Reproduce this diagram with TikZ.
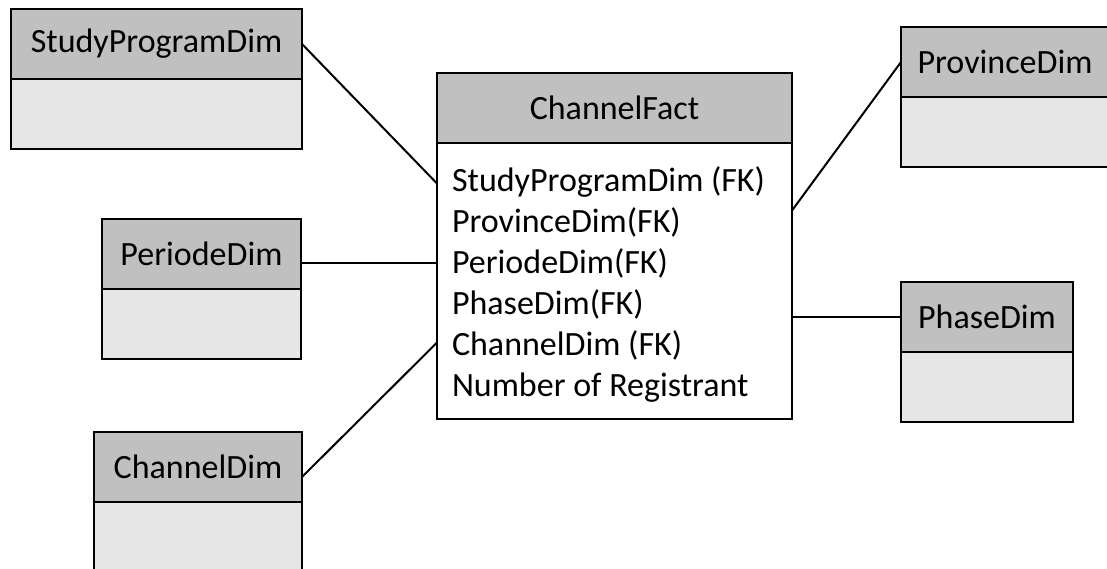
\documentclass[tikz,border=0pt]{standalone}
\usepackage{fontspec}
\setmainfont{Carlito}
\usetikzlibrary{positioning}

\definecolor{headgray}{RGB}{192,192,192}
\definecolor{bodygray}{RGB}{230,230,230}

\tikzset{
	dimhead/.style={fill=headgray,draw,line width=2.4pt,minimum height=70pt,inner sep=0pt,outer sep=0pt,font=\fontsize{34}{41}\selectfont},
	dimbody/.style={fill=bodygray,draw,line width=2.4pt,minimum height=70pt,inner sep=0pt,outer sep=0pt},
	factbox/.style={fill=white,draw,line width=2.4pt,inner sep=0pt,outer sep=0pt},
	factrow/.style={inner sep=0pt,outer sep=0pt,text height=28pt,text depth=13pt,font=\fontsize{34}{41}\selectfont},
	link/.style={line width=2pt}
}

\begin{document}
\begin{tikzpicture}[x=1pt,y=-1pt]
	\useasboundingbox (0,0) rectangle (1107,568);

	% dimension tables
	\node (spdhead) at (11,9) [dimhead,anchor=north west,minimum width=291pt] {StudyProgramDim};
	\node (spdbody) [dimbody,minimum width=291pt,below=0pt of spdhead] {};

	\node (provhead) at (901,27) [dimhead,anchor=north west,minimum width=208pt] {ProvinceDim};
	\node (provbody) [dimbody,minimum width=208pt,below=0pt of provhead] {};

	\node (perhead) at (102,219) [dimhead,anchor=north west,minimum width=199pt] {PeriodeDim};
	\node (perbody) [dimbody,minimum width=199pt,below=0pt of perhead] {};

	\node (phasehead) at (901,282) [dimhead,anchor=north west,minimum width=172pt] {PhaseDim};
	\node (phasebody) [dimbody,minimum width=172pt,below=0pt of phasehead] {};

	\node (chanhead) at (94,432) [dimhead,anchor=north west,minimum width=208pt] {ChannelDim};
	\node (chanbody) [dimbody,minimum width=208pt,below=0pt of chanhead] {};

	% fact table
	\node (facthead) at (437,73) [dimhead,anchor=north west,minimum width=355pt] {ChannelFact};
	\node (factbody) [factbox,minimum width=355pt,minimum height=276pt,below=0pt of facthead] {};

	\node (r1) at (452,163) [factrow,anchor=north west] {StudyProgramDim (FK)};
	\node (r2) [factrow,below right=0pt and 0pt of r1.south west] {ProvinceDim(FK)};
	\node (r3) [factrow,below right=0pt and 0pt of r2.south west] {PeriodeDim(FK)};
	\node (r4) [factrow,below right=0pt and 0pt of r3.south west] {PhaseDim(FK)};
	\node (r5) [factrow,below right=0pt and 0pt of r4.south west] {ChannelDim (FK)};
	\node (r6) [factrow,below right=0pt and 0pt of r5.south west] {Number of Registrant};

	% links
	\draw[link] (spdhead.east) -- (factbody.west |- r1);
	\draw[link] (provhead.west) -- ([yshift=14pt]factbody.east |- r2);
	\draw[link] ([yshift=3pt]perhead.east |- r3) -- ([yshift=3pt]factbody.west |- r3);
	\draw[link] (phasehead.west) -- (phasehead.west -| factbody.east);
	\draw[link] ([yshift=-10pt]chanhead.east) -- ([yshift=5pt]factbody.west |- r5);
\end{tikzpicture}
\end{document}
